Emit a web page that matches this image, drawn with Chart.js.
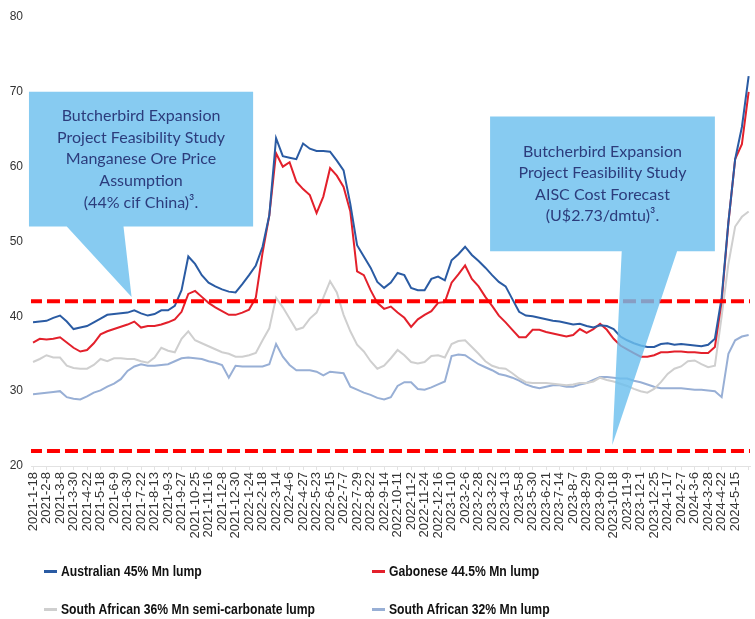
<!DOCTYPE html>
<html>
<head>
<meta charset="utf-8">
<script src="https://cdn.jsdelivr.net/npm/chart.js@4"></script>
<style>
  body { margin: 0; background: #fff; }
  #wrap { position: relative; width: 755px; height: 619px; }
  #legend { position: absolute; left: 0; top: 0; width: 755px; height: 619px; pointer-events: none;
    font-family: "Liberation Sans", Arial, sans-serif; font-weight: bold; font-size: 14px; color: #111; }
  .item { position: absolute; white-space: nowrap; line-height: 16px; }
  .mark { display: inline-block; width: 13px; height: 3px; vertical-align: middle; margin-right: 4px; position: relative; top: -1px; }
  .txt { display: inline-block; transform: scaleX(0.87); transform-origin: left center; }
</style>
</head>
<body>
<div id="wrap">
  <canvas id="myChart"></canvas>
  <div id="legend"></div>
</div>
<script>
// x axis tick labels (one per tick, data sampled every half tick)
var tickLabels = ['2021-1-18','2021-2-8','2021-3-8','2021-3-30','2021-4-22','2021-5-18','2021-6-9','2021-6-30',
  '2021-7-22','2021-8-13','2021-9-3','2021-9-27','2021-10-25','2021-11-16','2021-12-8','2021-12-30',
  '2022-1-24','2022-2-18','2022-3-14','2022-4-6','2022-4-27','2022-5-23','2022-6-15','2022-7-7',
  '2022-7-29','2022-8-22','2022-9-14','2022-10-11','2022-11-2','2022-11-24','2022-12-16','2023-1-10',
  '2023-2-6','2023-2-28','2023-3-22','2023-4-13','2023-5-8','2023-5-30','2023-6-21','2023-7-14',
  '2023-8-7','2023-8-29','2023-9-20','2023-10-18','2023-11-9','2023-12-1','2023-12-25','2024-1-17',
  '2024-2-7','2024-3-6','2024-3-28','2024-4-22','2024-5-15'];

var seriesNames = ['Australian 45% Mn lump', 'Gabonese 44.5% Mn lump',
  'South African 36% Mn semi-carbonate lump', 'South African 32% Mn lump'];

var australian = [39.2,39.3,39.4,39.8,40.1,39.3,38.3,38.5,38.7,39.2,
  39.7,40.2,40.3,40.4,40.5,40.8,40.4,40.1,40.3,40.8,
  40.8,41.4,43.5,48.0,47.0,45.5,44.5,44.0,43.6,43.3,
  43.2,44.3,45.5,46.8,49.3,53.5,63.8,61.4,61.2,61.0,
  63.1,62.4,62.1,62.1,62.0,60.8,59.5,55.0,49.5,48.0,
  46.5,44.6,43.8,44.5,45.8,45.5,43.8,43.5,43.5,45.0,
  45.3,44.8,47.5,48.3,49.3,48.2,47.4,46.5,45.5,44.6,
  44.0,42.3,40.6,40.1,40.0,39.8,39.6,39.4,39.3,39.1,
  38.9,39.0,38.7,38.5,38.8,38.7,38.3,37.3,36.8,36.4,
  36.1,35.9,35.9,36.3,36.4,36.2,36.3,36.2,36.1,36.0,
  36.2,37.0,42.5,52.6,61.0,65.3,72.1];

var gabonese = [36.5,37.0,36.9,37.0,37.2,36.5,35.8,35.3,35.5,36.4,
  37.6,38.0,38.3,38.6,38.9,39.3,38.5,38.7,38.7,38.9,
  39.2,39.6,40.6,43.0,43.4,42.6,41.8,41.2,40.7,40.2,
  40.2,40.5,40.9,42.5,48.5,53.5,61.8,60.0,60.6,58.0,
  57.0,56.2,53.8,56.0,59.8,58.8,57.3,54.0,46.0,45.5,
  43.5,41.8,41.0,41.3,40.5,39.8,38.6,39.6,40.2,40.7,
  41.8,41.9,44.5,45.6,46.8,45.0,44.0,42.6,41.4,40.1,
  39.2,38.2,37.2,37.2,38.2,38.2,37.9,37.7,37.5,37.3,
  37.5,38.3,37.8,38.3,39.0,38.2,37.0,36.1,35.6,35.1,
  34.6,34.6,34.8,35.2,35.2,35.3,35.3,35.2,35.2,35.1,
  35.1,35.9,42.0,52.5,61.0,63.0,70.0];

var saSemiCarb = [33.9,34.3,34.8,34.5,34.5,33.4,33.1,33.0,33.0,33.5,
  34.3,34.0,34.4,34.4,34.3,34.3,34.0,33.8,34.5,35.8,
  35.4,35.2,37.0,38.0,36.8,36.4,36.0,35.6,35.2,35.0,
  34.6,34.6,34.8,35.1,36.8,38.4,42.5,41.2,39.7,38.2,
  38.5,39.7,40.5,42.5,44.7,43.2,40.2,38.0,36.2,35.3,
  34.0,33.0,33.4,34.4,35.5,34.8,33.9,33.7,33.9,34.7,
  34.8,34.5,36.3,36.7,36.8,35.9,35.0,34.0,33.4,33.1,
  33.0,32.4,31.7,31.2,31.1,31.1,31.1,31.0,30.9,30.8,
  30.9,31.1,31.1,31.3,31.8,31.5,31.3,31.0,30.7,30.3,
  30.0,29.8,30.3,31.2,32.3,33.0,33.3,34.0,34.1,33.6,
  33.2,33.4,40.0,47.0,52.0,53.3,54.0];

var sa32 = [29.6,29.7,29.8,29.9,30.0,29.2,29.0,28.9,29.3,29.8,
  30.1,30.6,31.0,31.6,32.7,33.3,33.6,33.4,33.4,33.5,
  33.6,34.0,34.4,34.5,34.4,34.3,34.0,33.8,33.5,31.8,
  33.4,33.3,33.3,33.3,33.3,33.6,36.3,34.6,33.5,32.8,
  32.8,32.8,32.6,32.1,32.6,32.5,32.4,30.6,30.2,29.8,
  29.5,29.1,28.9,29.2,30.7,31.2,31.2,30.3,30.2,30.5,
  30.9,31.3,34.7,34.9,34.8,34.2,33.6,33.2,32.8,32.3,
  32.1,31.8,31.4,30.9,30.6,30.4,30.6,30.8,30.8,30.6,
  30.6,30.9,31.1,31.5,31.9,31.9,31.8,31.7,31.7,31.4,
  31.2,30.9,30.6,30.4,30.4,30.4,30.4,30.3,30.2,30.2,
  30.1,30.0,29.2,35.0,36.8,37.3,37.5];

// reference levels (red dashed)
var priceAssumption = 42;
var aiscForecast = 22;

var colors = ['#2a5ba3', '#e3202b', '#cfcfcf', '#98afd5'];
var step = 0.5;

function pts(arr) {
  return arr.map(function(v, i) { return { x: i * step, y: v }; });
}
function flat(v) {
  return [{ x: -0.3, y: v }, { x: 53.3, y: v }];
}

var callouts = [
  { lines: ['Butcherbird Expansion', 'Project Feasibility Study', 'Manganese Ore Price', 'Assumption', '(44% cif China)\u00b3.'],
    box: [-0.3, 16.3, 70, 52], base: [2.5, 6.7], tip: [7.3, 42.6] },
  { lines: ['Butcherbird Expansion', 'Project Feasibility Study', 'AISC Cost Forecast', '(U$2.73/dmtu)\u00b3.'],
    box: [33.85, 50.5, 66.7, 48.7], base: [43.6, 47.7], tip: [42.9, 22.8] }
];

var calloutPlugin = {
  id: 'callouts',
  afterDatasetsDraw: function(chart) {
    var ctx = chart.ctx, xs = chart.scales.x, ys = chart.scales.y;
    callouts.forEach(function(c) {
      var x0 = xs.getPixelForValue(c.box[0]), x1 = xs.getPixelForValue(c.box[1]);
      var y0 = ys.getPixelForValue(c.box[2]), y1 = ys.getPixelForValue(c.box[3]);
      ctx.save();
      ctx.globalAlpha = 0.82;
      ctx.fillStyle = '#6cc0ee';
      ctx.beginPath();
      ctx.moveTo(x0, y0); ctx.lineTo(x1, y0); ctx.lineTo(x1, y1);
      ctx.lineTo(xs.getPixelForValue(c.base[1]), y1);
      ctx.lineTo(xs.getPixelForValue(c.tip[0]), ys.getPixelForValue(c.tip[1]));
      ctx.lineTo(xs.getPixelForValue(c.base[0]), y1);
      ctx.lineTo(x0, y1);
      ctx.closePath();
      ctx.fill();
      ctx.globalAlpha = 1;
      ctx.fillStyle = '#2c3c7c';
      ctx.font = '16px Lato, "Open Sans", sans-serif';
      ctx.textAlign = 'center';
      ctx.textBaseline = 'middle';
      var lh = 21.6, cx = (x0 + x1) / 2, cy = (y0 + y1) / 2;
      var top = cy - (c.lines.length - 1) * lh / 2;
      c.lines.forEach(function(t, i) { ctx.fillText(t, cx, top + i * lh); });
      ctx.restore();
    });
  }
};

var dashStyle = { borderColor: '#ff0000', borderWidth: 4, borderDash: [13, 5], pointRadius: 0, fill: false };

var data = {
  datasets: [
    Object.assign({ label: 'price', data: flat(priceAssumption) }, dashStyle),
    Object.assign({ label: 'aisc', data: flat(aiscForecast) }, dashStyle),
    { label: seriesNames[0], data: pts(australian), borderColor: colors[0], borderWidth: 2, pointRadius: 0 },
    { label: seriesNames[1], data: pts(gabonese), borderColor: colors[1], borderWidth: 2, pointRadius: 0 },
    { label: seriesNames[2], data: pts(saSemiCarb), borderColor: colors[2], borderWidth: 2, pointRadius: 0 },
    { label: seriesNames[3], data: pts(sa32), borderColor: colors[3], borderWidth: 2, pointRadius: 0 }
  ]
};

var ctx = document.getElementById('myChart');
var myChart = new Chart(ctx, {
  type: 'line',
  data: data,
  plugins: [calloutPlugin],
  options: {
    responsive: true,
    maintainAspectRatio: false,
    animation: false,
    layout: { padding: { top: 17, right: 5, bottom: 73, left: 0 } },
    plugins: { legend: { display: false }, tooltip: { enabled: false } },
    scales: {
      x: {
        type: 'linear', min: -0.15, max: 53.1,
        afterFit: function(s) { s.height = 80; s.paddingLeft = 0; s.paddingRight = 0; },
        grid: { drawOnChartArea: false, drawTicks: true, tickLength: 4, color: '#e2e2e2' },
        border: { display: true, color: '#e2e2e2' },
        ticks: {
          stepSize: 1, autoSkip: false, includeBounds: false, minRotation: 90, maxRotation: 90,
          color: '#333', font: { family: '"Liberation Sans", Arial, sans-serif', size: 13 }, padding: 2,
          callback: function(v) { return tickLabels[v] || ''; }
        }
      },
      y: {
        min: 20, max: 80,
        afterFit: function(s) { s.width = 31; s.paddingTop = 0; s.paddingBottom = 0; },
        grid: { display: false, drawTicks: false },
        border: { display: false },
        ticks: { stepSize: 10, padding: 8, color: '#333', font: { family: '"Liberation Sans", Arial, sans-serif', size: 12 } }
      }
    }
  }
});

// legend in two columns
var legendPos = [[44, 563], [372, 563], [44, 601], [372, 601]];
var legend = document.getElementById('legend');
seriesNames.forEach(function(name, i) {
  var d = document.createElement('div');
  d.className = 'item';
  d.style.left = legendPos[i][0] + 'px';
  d.style.top = legendPos[i][1] + 'px';
  d.innerHTML = '<span class="mark" style="background:' + colors[i] + '"></span><span class="txt">' + name + '</span>';
  legend.appendChild(d);
});
</script>
</body>
</html>
